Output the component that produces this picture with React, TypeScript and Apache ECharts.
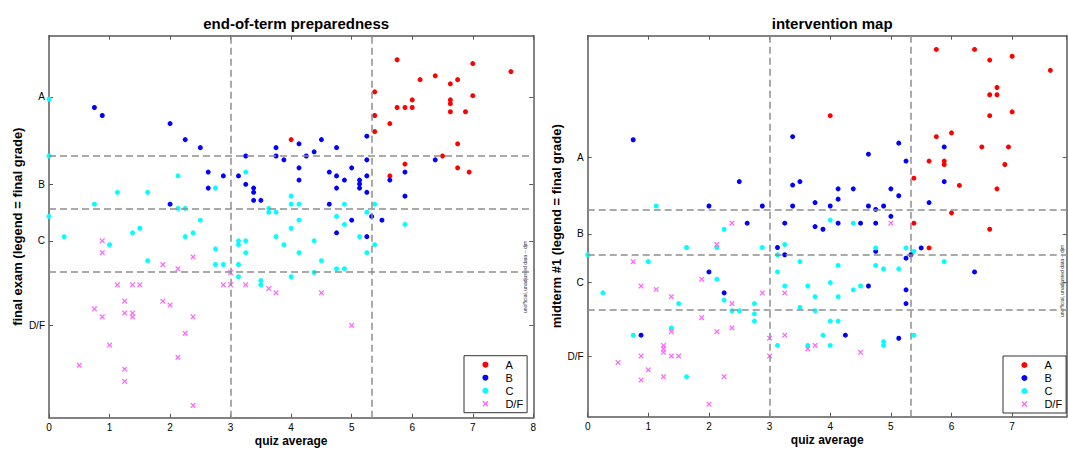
import React, { useEffect, useRef } from "react";
import * as echarts from "echarts";

// ---------- data ----------
const grades = ["A", "B", "C", "D/F"];
const gradeColors = ["#ff0000", "#0000ff", "#00ffff", "#ff66ff"];
const xTickMax = [8, 7.9];
const leftYTickValues = [84.0, 61.1, 46.3, 24.2];
const rightYTickValues = [68.0, 48.0, 35.2, 15.9];
const leftGradeCutoffs = [68.5, 54.8, 38.2];
const rightGradeCutoffs = [54.4, 42.5, 28.1];
const quizCutoffs = [3.0, 5.333];

// left panel: quiz average vs final exam
const finalA = [
  [5.75, 93.7], [7.0, 92.7], [7.63, 90.6], [6.13, 88.5], [6.38, 89.5], [6.63, 87.4], [6.75, 88.5],
  [5.38, 85.3], [6.0, 83.2], [6.63, 83.2], [6.63, 82.2], [7.0, 84.3], [5.75, 81.2], [5.88, 81.2],
  [6.0, 81.2], [6.63, 80.1], [6.88, 80.1], [5.38, 79.1], [5.63, 77.0], [5.38, 74.9], [4.0, 72.8],
  [6.75, 71.7], [6.5, 68.5], [5.88, 66.4], [6.75, 65.4], [6.94, 64.3], [5.63, 63.3],
];
const finalB = [
  [0.75, 81.2], [0.88, 79.1], [2.0, 77.0], [2.25, 72.8], [2.5, 70.7], [2.63, 64.3], [2.88, 63.3],
  [3.13, 63.3], [3.25, 68.5], [3.25, 61.1], [3.38, 60.1], [3.38, 59.0], [3.38, 56.9], [3.5, 56.9],
  [2.63, 60.1], [2.0, 55.9], [5.25, 73.7], [4.13, 71.7], [4.5, 72.8], [3.75, 70.7], [4.38, 69.6],
  [4.75, 70.7], [3.75, 68.5], [4.25, 68.5], [3.88, 67.5], [5.25, 67.5], [6.38, 67.5], [4.13, 65.4],
  [5.0, 65.4], [4.63, 64.3], [5.88, 64.3], [4.75, 63.3], [5.25, 63.3], [4.13, 62.2], [4.88, 62.2],
  [5.13, 62.2], [5.63, 62.2], [5.13, 61.2], [4.75, 60.1], [5.13, 60.1], [5.25, 59.0], [5.88, 58.0],
  [4.63, 55.9], [5.33, 52.7], [5.5, 51.7], [5.0, 51.7], [4.75, 48.4], [5.25, 47.4],
];
const finalC = [
  [0, 83.4], [0, 68.5], [2.13, 63.3], [3.25, 64.3], [3.63, 54.8], [3.63, 53.8], [2.75, 60.1],
  [1.13, 59.0], [1.63, 59.0], [0.75, 55.9], [2.13, 54.8], [2.25, 54.8], [0, 52.7], [2.5, 51.7],
  [1.5, 49.6], [4.0, 58.0], [4.0, 55.9], [4.13, 55.9], [4.88, 55.9], [5.38, 55.9], [3.75, 53.8],
  [4.75, 52.7], [5.25, 53.8], [4.13, 51.7], [4.88, 50.6], [5.88, 50.6], [4.0, 49.6], [3.75, 47.4],
  [5.13, 47.4], [3.88, 45.3], [4.38, 46.3], [5.38, 45.3], [4.13, 43.2], [5.25, 43.2], [4.5, 41.1],
  [4.75, 39.0], [4.88, 39.0], [4.38, 38.0], [4.0, 36.9], [3.5, 35.9], [3.5, 34.8], [0.25, 47.4],
  [1.0, 45.3], [1.38, 48.4], [1.63, 41.1], [2.25, 47.4], [2.38, 48.4], [2.75, 44.2], [2.75, 40.1],
  [2.88, 40.1], [3.13, 46.3], [3.13, 45.3], [3.25, 46.3], [3.25, 43.2], [3.13, 40.1], [3.13, 36.9],
];
const finalDF = [
  [3.63, 33.8], [3.75, 32.7], [4.5, 32.7], [5.0, 24.2], [0.88, 46.3], [0.88, 43.2], [2.38, 42.1],
  [1.88, 40.1], [2.13, 39.0], [3.0, 38.0], [1.13, 34.8], [1.38, 34.8], [1.5, 34.8], [2.88, 34.8],
  [3.0, 34.8], [3.25, 34.8], [1.25, 30.5], [1.88, 30.5], [2.0, 29.5], [0.75, 28.5], [1.25, 27.4],
  [1.38, 27.4], [1.38, 26.4], [0.88, 26.4], [2.38, 26.4], [2.25, 22.1], [1.0, 19.0], [2.13, 15.8],
  [0.5, 13.7], [1.25, 12.7], [1.25, 9.5], [2.38, 3.2],
];

// right panel: quiz average vs midterm #1
const midA = [
  [5.75, 96.4], [6.38, 96.4], [6.63, 93.6], [7.0, 94.6], [7.63, 90.9], [6.75, 86.4], [6.63, 84.5],
  [6.75, 84.5], [4.0, 79.0], [6.63, 79.0], [7.0, 80.0], [5.75, 73.5], [6.0, 74.5], [6.5, 70.8],
  [6.94, 70.8], [5.63, 67.1], [5.88, 67.1], [5.88, 66.2], [6.88, 66.2], [5.38, 62.6], [6.13, 60.7],
  [6.75, 59.8], [6.0, 53.5], [5.38, 50.8], [6.63, 49.2], [5.63, 44.3],
];
const midB = [
  [0.75, 72.7], [3.38, 73.5], [2.5, 61.7], [3.38, 60.8], [3.5, 61.7], [2.0, 55.3], [2.88, 55.3],
  [3.38, 55.3], [3.75, 56.2], [2.63, 50.8], [3.25, 50.8], [3.75, 49.9], [5.13, 71.8], [5.88, 70.8],
  [4.63, 68.9], [5.25, 67.1], [5.88, 61.7], [4.13, 59.8], [4.38, 59.8], [5.0, 59.8], [4.13, 57.1],
  [5.13, 58.0], [4.0, 55.3], [4.63, 55.3], [4.88, 55.3], [4.75, 54.4], [5.63, 56.2], [5.0, 52.6],
  [3.88, 49.2], [4.13, 50.8], [4.5, 50.8], [4.75, 50.8], [4.75, 43.4], [5.5, 44.3], [5.33, 42.5],
  [5.25, 41.6], [6.38, 38.0], [4.63, 34.3], [5.25, 33.3], [5.25, 29.7], [4.25, 21.4], [5.13, 20.6],
  [3.13, 44.4], [3.25, 42.5], [2.0, 38.0], [2.25, 32.5], [0.88, 21.4],
];
const midC = [
  [1.13, 55.3], [2.25, 49.2], [4.0, 51.6], [4.38, 50.8], [4.75, 44.3], [5.25, 44.3], [5.38, 43.4],
  [5.88, 40.7], [3.5, 40.7], [4.13, 39.7], [4.75, 39.7], [4.88, 38.8], [5.13, 38.8], [4.0, 35.2],
  [3.63, 34.3], [4.38, 33.3], [4.5, 34.3], [3.75, 31.5], [4.13, 31.5], [3.5, 28.7], [3.75, 27.8],
  [4.0, 25.1], [4.13, 25.1], [3.88, 21.4], [5.38, 21.4], [4.88, 19.7], [4.88, 18.7], [3.63, 18.7],
  [4.0, 18.7], [1.63, 44.4], [2.13, 44.4], [2.88, 44.4], [3.25, 45.2], [3.13, 42.5], [0, 42.5],
  [1.0, 40.7], [3.13, 38.0], [2.13, 36.1], [3.25, 34.3], [0.25, 32.5], [2.25, 30.6], [1.5, 29.7],
  [2.75, 29.7], [2.38, 27.8], [2.5, 27.8], [2.75, 27.0], [2.75, 25.1], [1.38, 23.3], [0.75, 21.4],
  [3.13, 18.7], [1.63, 10.5],
];
const midDF = [
  [2.38, 50.8], [5.0, 50.8], [3.63, 17.8], [3.75, 18.7], [4.5, 16.9], [2.13, 45.2], [0.75, 40.7],
  [1.88, 36.1], [0.88, 34.3], [1.13, 33.4], [2.88, 32.5], [3.25, 32.5], [1.38, 31.5], [2.38, 29.7],
  [1.88, 26.0], [1.38, 22.3], [2.13, 22.3], [2.38, 23.3], [3.25, 21.4], [3.0, 20.6], [1.25, 18.7],
  [1.25, 17.8], [1.25, 16.9], [0.88, 15.9], [1.38, 15.9], [1.5, 15.9], [3.0, 15.9], [0.5, 14.2],
  [1.0, 12.3], [0.88, 9.6], [1.25, 10.5], [2.25, 10.5], [2.0, 3.3],
];

const titles = ["end-of-term preparedness", "intervention map"];
const yNames = ["final exam (legend = final grade)", "midterm #1 (legend = final grade)"];
const xName = "quiz average";
const note = "unofficial, unadjusted data -- djm";

// ---------- styling ----------
const FONT = "'Liberation Sans', Arial, Helvetica, sans-serif";
const AXIS_COLOR = "#5a5a5a";
const X_SYMBOL =
  "path://M0,1.6L1.6,0L5,3.4L8.4,0L10,1.6L6.6,5L10,8.4L8.4,10L5,6.6L1.6,10L0,8.4L3.4,5Z";

const panels = [
  { grid: { left: 49, top: 35.7, width: 484.3, height: 382 }, yTicks: leftYTickValues, cutoffs: leftGradeCutoffs, sets: [finalA, finalB, finalC, finalDF], legend: { left: 464, top: 355.7 }, note: { x: 525, y: 277 } },
  { grid: { left: 587.7, top: 35.7, width: 479, height: 381 }, yTicks: rightYTickValues, cutoffs: rightGradeCutoffs, sets: [midA, midB, midC, midDF], legend: { left: 1003, top: 356 }, note: { x: 1062, y: 281 } },
];

function gradeLabel(ticks: number[]) {
  return (v: number) => {
    const i = ticks.findIndex((t) => Math.abs(t - v) < 0.05);
    return i >= 0 ? grades[i] : "";
  };
}

function buildOption() {
  const grid: any[] = [];
  const xAxis: any[] = [];
  const yAxis: any[] = [];
  const series: any[] = [];
  const legend: any[] = [];
  const title: any[] = [];
  const graphic: any[] = [];

  panels.forEach((p, pi) => {
    grid.push({ ...p.grid, containLabel: false, outerBoundsMode: "none" });
    const xBase = {
      type: "value",
      gridIndex: pi,
      min: 0,
      max: xTickMax[pi],
      interval: 1,
      splitLine: { show: false },
      axisLine: { show: true, onZero: false, lineStyle: { color: AXIS_COLOR, width: 1.5 } },
      axisTick: { show: true, inside: true, length: 4, lineStyle: { color: AXIS_COLOR } },
    };
    xAxis.push({
      ...xBase,
      position: "bottom",
      name: xName,
      nameLocation: "middle",
      nameMoveOverlap: false,
      nameGap: 17,
      nameTextStyle: { fontFamily: FONT, fontWeight: "bold", fontSize: 12, lineHeight: 12, color: "#000" },
      axisLabel: { show: true, fontFamily: FONT, fontSize: 10, color: "#000", margin: 5, showMaxLabel: pi === 0 },
    });
    xAxis.push({ ...xBase, position: "top", axisLabel: { show: false } });

    const yBase = {
      type: "value",
      gridIndex: pi,
      min: 0,
      max: 100,
      splitLine: { show: false },
      axisLine: { show: true, onZero: false, lineStyle: { color: AXIS_COLOR, width: 1.5 } },
      axisTick: { show: true, inside: true, length: 4, customValues: p.yTicks, lineStyle: { color: AXIS_COLOR } },
    };
    yAxis.push({
      ...yBase,
      position: "left",
      name: yNames[pi],
      nameLocation: "middle",
      nameMoveOverlap: false,
      nameGap: 25,
      nameTextStyle: { fontFamily: FONT, fontWeight: "bold", fontSize: 13, color: "#000" },
      axisLabel: { show: true, customValues: p.yTicks, formatter: gradeLabel(p.yTicks), fontFamily: FONT, fontSize: 10, color: "#000", margin: 4 },
    });
    yAxis.push({ ...yBase, position: "right", axisLabel: { show: false } });

    // cutoff lines
    series.push({
      type: "scatter",
      name: "cutoffs" + pi,
      xAxisIndex: pi * 2,
      yAxisIndex: pi * 2,
      data: [],
      z: 1,
      silent: true,
      markLine: {
        silent: true,
        symbol: ["none", "none"],
        label: { show: false },
        lineStyle: { type: [7, 4], color: "#8f8f8f", width: 1.5 },
        data: [
          ...quizCutoffs.map((v) => ({ xAxis: v })),
          ...p.cutoffs.map((v) => ({ yAxis: v })),
        ],
      },
    });

    p.sets.forEach((d, gi) => {
      const isX = gi === 3;
      series.push({
        type: "scatter",
        name: grades[gi],
        xAxisIndex: pi * 2,
        yAxisIndex: pi * 2,
        data: d,
        z: 3,
        symbol: isX ? X_SYMBOL : "circle",
        symbolSize: isX ? 5.5 : 5,
        itemStyle: { color: gradeColors[gi], opacity: 1 },
      });
    });

    legend.push({
      show: true,
      orient: "vertical",
      left: p.legend.left,
      top: p.legend.top,
      data: grades,
      itemWidth: 30,
      itemHeight: 6,
      itemGap: 1,
      padding: [3, 4, 3, 18.4],
      borderColor: "#333",
      borderWidth: 1,
      backgroundColor: "#fff",
      selectedMode: false,
      textStyle: { fontFamily: FONT, fontSize: 11, color: "#000", lineHeight: 12 },
    });

    title.push({
      text: titles[pi],
      left: p.grid.left + p.grid.width / 2,
      top: 11,
      textAlign: "center",
      textStyle: { fontFamily: FONT, fontWeight: "bold", fontSize: 15, color: "#000" },
    });

    graphic.push({
      type: "text",
      x: p.note.x,
      y: p.note.y,
      rotation: Math.PI / 2,
      silent: true,
      style: { text: note, fontFamily: FONT, fontSize: 5, fill: "#333", textAlign: "center", textVerticalAlign: "middle" },
    });
  });

  return { animation: false, backgroundColor: "#fff", grid, xAxis, yAxis, series, legend, title, graphic };
}

export default function App() {
  const ref = useRef<HTMLDivElement>(null);
  useEffect(() => {
    document.body.style.margin = "0";
    if (!ref.current) return;
    const chart = echarts.init(ref.current, undefined, { renderer: "svg" });
    chart.setOption(buildOption() as any);
    return () => chart.dispose();
  }, []);
  return <div ref={ref} style={{ position: "absolute", left: 0, top: 0, width: 1068, height: 449 }} />;
}
